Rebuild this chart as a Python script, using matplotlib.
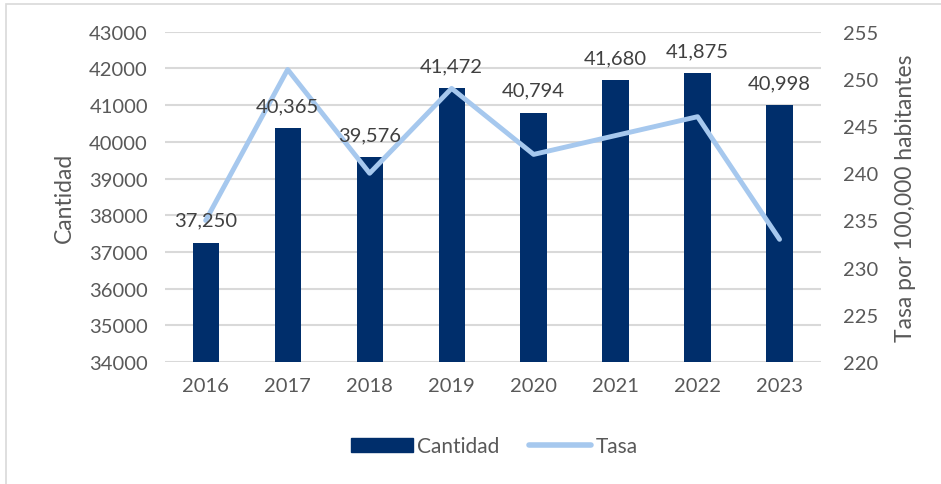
import matplotlib.pyplot as plt
import matplotlib.patches as mpatches
from matplotlib.lines import Line2D
import numpy as np

# ------------------ DATA ------------------
years = ['2016', '2017', '2018', '2019', '2020', '2021', '2022', '2023']
cantidad = [37250, 40365, 39576, 41472, 40794, 41680, 41875, 40998]
tasa = [235, 251, 240, 249, 242, 244, 246, 233]
# ------------------------------------------

BAR_COLOR = '#002E6B'
LINE_COLOR = '#A6C8EE'
TEXT_COLOR = '#595959'
FONT = ['Lato', 'DejaVu Sans']

plt.rcParams['font.family'] = FONT

fig = plt.figure(figsize=(9.41, 4.85), dpi=100)
ax = fig.add_axes([0.175, 0.2515, 0.697, 0.681])
ax2 = ax.twinx()

x = np.arange(len(years))
bars = ax.bar(x, cantidad, width=0.32, color=BAR_COLOR, zorder=2)
ax.set_ylim(34000, 43000)
ax.set_yticks(np.arange(34000, 43001, 1000))
ax.set_xlim(-0.5, len(years) - 0.5)
ax.set_xticks(x)
ax.set_xticklabels(years)
ax.yaxis.grid(True, color='#D9D9D9', lw=1.5, zorder=0)
ax.set_axisbelow(True)

ax2.plot(x, tasa, color=LINE_COLOR, lw=3.5, solid_capstyle='round', zorder=3)
ax2.set_ylim(220, 255)
ax2.set_yticks(np.arange(220, 256, 5))

# bar labels go on ax2 so they sit on top of the line
for xi, v in zip(x, cantidad):
    ax2.annotate(f'{v:,}', (xi, v), xycoords=ax.transData, xytext=(0, 10),
                 textcoords='offset points', ha='center', va='bottom',
                 fontsize=14.5, color='#404040', zorder=5)

for a in (ax, ax2):
    for s in a.spines.values():
        s.set_visible(False)
    a.tick_params(length=0, labelsize=14.5, colors=TEXT_COLOR)
ax.tick_params(axis='x', pad=11)
ax.tick_params(axis='y', pad=12)
ax2.tick_params(axis='y', pad=16)

ax.set_ylabel('Cantidad', fontsize=16.5, color=TEXT_COLOR, labelpad=10)
ax2.set_ylabel('Tasa por 100,000 habitantes', fontsize=16.5, color=TEXT_COLOR, labelpad=12)

handles = [mpatches.Patch(color=BAR_COLOR, label='Cantidad'),
           Line2D([0], [0], color=LINE_COLOR, lw=4, solid_capstyle='round', label='Tasa')]
fig.legend(handles=handles, loc='center', bbox_to_anchor=(0.525, 0.078), ncol=2,
           frameon=False, fontsize=15, labelcolor=TEXT_COLOR, handlelength=3.0,
           handletextpad=0.2, columnspacing=1.4)

# light frame around the chart area like the exported chart
fig.patches.append(mpatches.Rectangle((0.006, -0.01), 1.0, 1.0, transform=fig.transFigure,
                                      fill=False, ec='#D9D9D9', lw=1.2))

fig.savefig('out.png', dpi=100)
